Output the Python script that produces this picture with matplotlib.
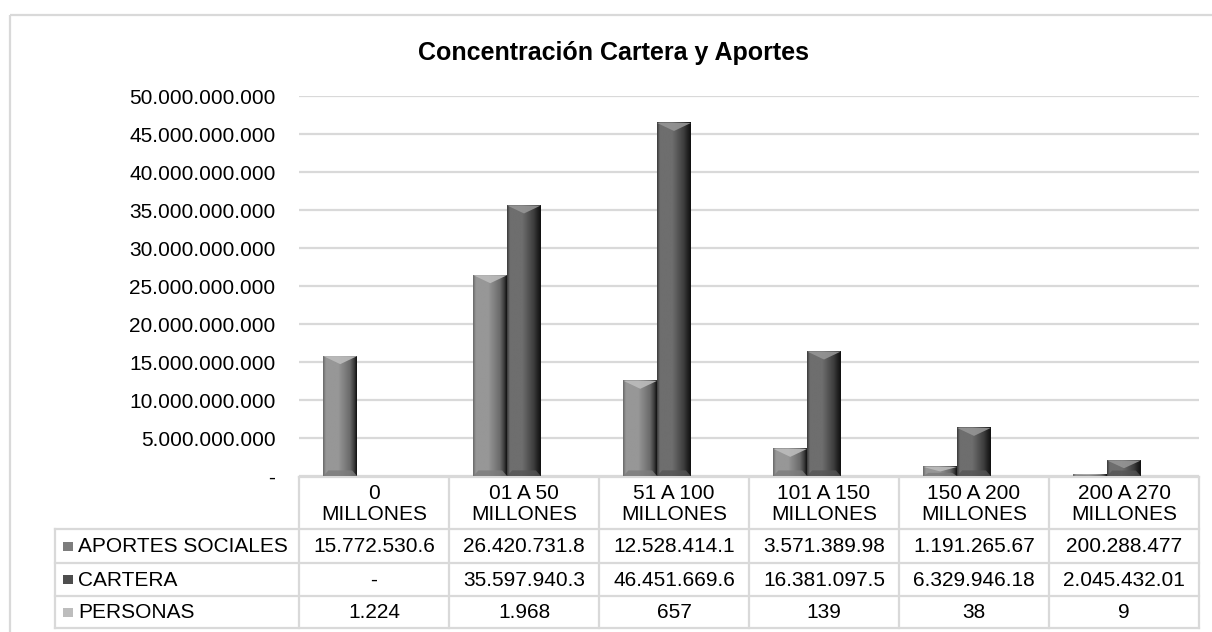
import numpy as np
import matplotlib
matplotlib.use('Agg')
import matplotlib.pyplot as plt
from matplotlib.colors import LinearSegmentedColormap
from matplotlib.patches import Polygon, Rectangle
from matplotlib.ticker import FuncFormatter

plt.rcParams['font.family'] = ['Liberation Sans', 'DejaVu Sans']

# datos
categorias = ['0\nMILLONES', '01 A 50\nMILLONES', '51 A 100\nMILLONES',
              '101 A 150\nMILLONES', '150 A 200\nMILLONES', '200 A 270\nMILLONES']
series = ['APORTES SOCIALES', 'CARTERA', 'PERSONAS']
aportes = [15772530600, 26420731800, 12528414100, 3571389980, 1191265670, 200288477]
cartera = [0, 35597940300, 46451669600, 16381097500, 6329946180, 2045432010]
personas = [1224, 1968, 657, 139, 38, 9]
y_ticks = np.arange(0, 50e9 + 1, 5e9)

W, H = 1212, 632


def fmt_miles(v):
    if v == 0:
        return '-'
    return f'{int(round(v)):,}'.replace(',', '.')


def fmt_celda(v):
    # la celda de Excel corta el texto largo
    return fmt_miles(v)[:12]


fig = plt.figure(figsize=(W / 100, H / 100), dpi=100)

# area de grafico
px_l, px_r, px_top, px_bot = 299, 1199, 96, 476
ax = fig.add_axes([px_l / W, (H - px_bot) / H, (px_r - px_l) / W, (px_bot - px_top) / H])

x = np.arange(len(categorias))
w = 0.225
estilos = [
    # izq, medio, der, tapa, base
    ('#6a6a6a', '#979797', '#3e3e3e', '#bcbcbc', '#7c7c7c'),
    ('#3c3c3c', '#6e6e6e', '#202020', '#959595', '#555555'),
    ('#9a9a9a', '#c0c0c0', '#808080', '#dddddd', '#aaaaaa'),
]
valores = [aportes, cartera, personas]

ax.set_xlim(-0.5, len(categorias) - 0.5)
ax.set_ylim(0, 50e9)
bev = 8 / (px_bot - px_top) * 50e9


def bisel(bar, est):
    x0, bw, h = bar.get_x(), bar.get_width(), bar.get_height()
    if h < 0.6 / (px_bot - px_top) * 50e9:
        return
    izq, med, der, tapa, base = est
    cmap = LinearSegmentedColormap.from_list(
        'b', [(0, izq), (0.08, med), (0.45, med), (0.8, izq), (0.92, der), (1, '#111111')])
    grad = np.linspace(0, 1, 80).reshape(1, -1)
    ax.imshow(grad, extent=(x0, x0 + bw, 0, h), cmap=cmap, aspect='auto',
              interpolation='bilinear', zorder=3)
    dy = min(bev, h / 2)
    ax.add_patch(Polygon([(x0, h), (x0 + bw, h), (x0 + bw / 2, h - dy)],
                         closed=True, facecolor=tapa, edgecolor='none', zorder=4, alpha=0.9))
    ax.add_patch(Polygon([(x0, 0), (x0 + bw, 0), (x0 + bw * 0.85, dy * 0.7), (x0 + bw * 0.15, dy * 0.7)],
                         closed=True, facecolor=base, edgecolor='none', zorder=4, alpha=0.8))


for i, (vals, est) in enumerate(zip(valores, estilos)):
    bars = ax.bar(x + (i - 1) * w, vals, width=w, color=est[1], edgecolor='none', zorder=2)
    for b in bars:
        bisel(b, est)

ax.set_xlim(-0.5, len(categorias) - 0.5)
ax.set_ylim(0, 50e9)
ax.set_aspect('auto')
ax.set_yticks(y_ticks)
ax.yaxis.set_major_formatter(FuncFormatter(lambda v, p: fmt_miles(v)))
ax.tick_params(axis='y', length=0, labelsize=15, pad=17, colors='#000000')
ax.set_xticks([])
ax.grid(axis='y', color='#d9d9d9', linewidth=1.6, zorder=0)
ax.set_axisbelow(True)
for s in ax.spines.values():
    s.set_visible(False)

# capa en pixeles para tabla, marco y titulo
tax = fig.add_axes([0, 0, 1, 1], zorder=-1)
tax.set_xlim(0, W)
tax.set_ylim(H, 0)
tax.axis('off')
tax.patch.set_alpha(0)

tax.add_patch(Rectangle((10, 15), W + 10, H, fill=False, edgecolor='#d9d9d9', linewidth=1.6))

fig.text(613 / W, 1 - 53 / H, 'Concentración Cartera y Aportes', ha='center', va='center',
         fontsize=18, fontweight='bold')

col_w = (px_r - px_l) / len(categorias)
bordes = [px_l + i * col_w for i in range(len(categorias) + 1)]
filas = [477, 529, 563, 596, 628]
t_left = 55
lc = '#d9d9d9'
lw = 1.6
tax.plot([px_l, px_r], [filas[0]] * 2, color=lc, lw=lw)
for yy in filas[1:]:
    tax.plot([t_left, px_r], [yy] * 2, color=lc, lw=lw)
for xx in bordes:
    tax.plot([xx, xx], [filas[0], filas[-1]], color=lc, lw=lw)
tax.plot([t_left, t_left], [filas[1], filas[-1]], color=lc, lw=lw)

for j, cat in enumerate(categorias):
    tax.text((bordes[j] + bordes[j + 1]) / 2, (filas[0] + filas[1]) / 2 + 1, cat,
             ha='center', va='center', fontsize=15, linespacing=1.12)

colores_leyenda = ['#7d7d7d', '#4e4e4e', '#bdbdbd']
for r, (nombre, vals) in enumerate(zip(series, valores)):
    yc = (filas[r + 1] + filas[r + 2]) / 2
    tax.add_patch(Rectangle((63, yc - 4.5), 10, 9, facecolor=colores_leyenda[r], edgecolor='none'))
    tax.text(78, yc + 1, nombre, ha='left', va='center', fontsize=15)
    for j, v in enumerate(vals):
        tax.text((bordes[j] + bordes[j + 1]) / 2, yc + 1, fmt_celda(v),
                 ha='center', va='center', fontsize=15)

fig.savefig('out.png', dpi=100, facecolor='white')
